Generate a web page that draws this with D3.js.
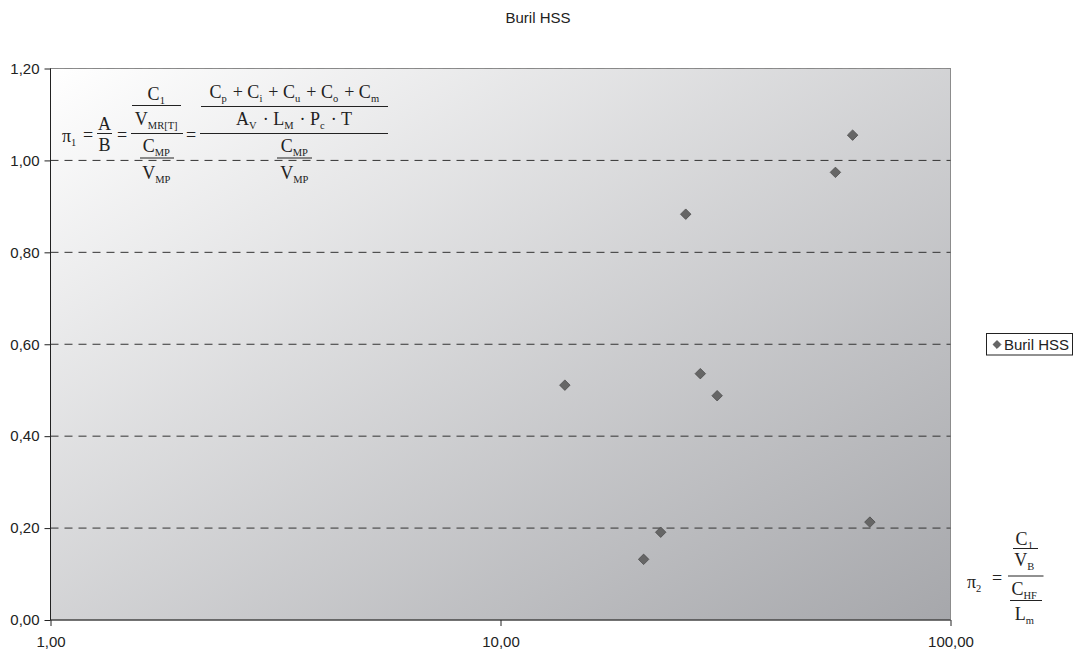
<!DOCTYPE html>
<html>
<head>
<meta charset="utf-8">
<script src="https://cdn.jsdelivr.net/npm/d3@7"></script>
<style>
  body { margin: 0; background: #fff; }
  svg { display: block; }
</style>
</head>
<body>
<div id="chart"></div>
<script>
// data
const seriesName = "Buril HSS";
const xValues = [60.6, 55.5, 25.8, 13.9, 27.8, 30.3, 22.7, 20.8, 66.2];
const yValues = [1.055, 0.974, 0.883, 0.511, 0.536, 0.488, 0.191, 0.132, 0.213];
const xTicks = [1, 10, 100];
const yTicks = [0, 0.2, 0.4, 0.6, 0.8, 1.0, 1.2];

const width = 1074, height = 649;
const margin = {top: 68.5, right: 123.5, bottom: 29, left: 50.5};
const plotW = width - margin.left - margin.right,
      plotH = height - margin.top - margin.bottom;

const fmt = d3.formatLocale({decimal: ",", thousands: ".", grouping: [3], currency: ["", ""]}).format(".2f");

const svg = d3.select("#chart").append("svg")
  .attr("width", width)
  .attr("height", height)
  .style("font-family", "'Liberation Sans', Arial, sans-serif");

// background gradient of the plot area
const grad = svg.append("defs").append("linearGradient")
  .attr("id", "bg").attr("x1", 0).attr("y1", 0).attr("x2", 1).attr("y2", 1);
grad.append("stop").attr("offset", "0%").attr("stop-color", "#ffffff");
grad.append("stop").attr("offset", "100%").attr("stop-color", "#a6a7ab");

// title
svg.append("text")
  .attr("x", 538).attr("y", 23)
  .attr("text-anchor", "middle")
  .attr("font-size", "15px").attr("fill", "#222")
  .text(seriesName);

const g = svg.append("g")
  .attr("transform", "translate(" + margin.left + "," + margin.top + ")");

const x = d3.scaleLog().domain([1, 100]).range([0, plotW]);
const y = d3.scaleLinear().domain([0, 1.2]).range([plotH, 0]);

g.append("rect")
  .attr("width", plotW).attr("height", plotH)
  .attr("fill", "url(#bg)")
  .attr("stroke", "#8c8c8c").attr("stroke-width", 1);

// dashed gridlines
g.append("g").selectAll("line")
  .data(yTicks.filter(d => d > 0))
  .enter().append("line")
    .attr("x1", 0).attr("x2", plotW)
    .attr("y1", d => y(d)).attr("y2", d => y(d))
    .attr("stroke", d => d >= 1.2 ? "#888" : "#333")
    .attr("stroke-width", 1)
    .attr("stroke-dasharray", "8,6");

// axes
const yAxis = g.append("g")
  .call(d3.axisLeft(y).tickValues(yTicks).tickFormat(fmt).tickSize(6).tickPadding(5));
const xAxis = g.append("g")
  .attr("transform", "translate(0," + plotH + ")")
  .call(d3.axisBottom(x).tickValues(xTicks).tickFormat(fmt).tickSize(6).tickPadding(10));

[xAxis, yAxis].forEach(a => {
  a.select(".domain").attr("stroke", "#222");
  a.selectAll(".tick line").attr("stroke", "#222");
  a.selectAll("text")
    .attr("font-family", "'Liberation Sans', Arial, sans-serif")
    .attr("font-size", "15px").attr("fill", "#222");
});
xAxis.select(".domain").attr("d", "M0,0H" + plotW);
yAxis.select(".domain").attr("d", "M0," + plotH + "V0");

// points
const pts = xValues.map((v, i) => ({x: v, y: yValues[i]}));
const diamond = d3.symbol().type(d3.symbolDiamond2).size(70);
g.append("g").selectAll("path")
  .data(pts)
  .enter().append("path")
    .attr("d", diamond)
    .attr("transform", d => "translate(" + x(d.x) + "," + y(d.y) + ")")
    .attr("fill", "#666")
    .attr("stroke", "#4d4d4d")
    .attr("stroke-width", 0.8);

// legend
const leg = svg.append("g");
leg.append("rect")
  .attr("x", 986.5).attr("y", 333.5).attr("width", 86).attr("height", 21.5)
  .attr("fill", "#fff").attr("stroke", "#222");
leg.append("path")
  .attr("d", d3.symbol().type(d3.symbolDiamond2).size(40))
  .attr("transform", "translate(997,344.5)")
  .attr("fill", "#666").attr("stroke", "#4d4d4d").attr("stroke-width", 0.8);
leg.append("text")
  .attr("x", 1004).attr("y", 349.5)
  .attr("font-size", "15px").attr("fill", "#222")
  .text(seriesName);

// formulas (Times style)
const fx = svg.append("g")
  .attr("font-family", "'Liberation Serif', 'Times New Roman', serif")
  .attr("fill", "#222");
const FS = 18;

// parts: array of [text, sub]
function term(px, py, parts, anchor) {
  const t = fx.append("text")
    .attr("x", px).attr("y", py)
    .attr("text-anchor", anchor || "middle")
    .attr("font-size", FS + "px");
  parts.forEach(p => {
    t.append("tspan").text(p[0]);
    if (p[1]) {
      t.append("tspan").attr("dy", 4).attr("font-size", "10.5px").text(p[1]);
      t.append("tspan").attr("dy", -4).text("\u200a");
    }
  });
  return t;
}
function bar(x1, x2, yy) {
  fx.append("line")
    .attr("x1", x1).attr("x2", x2).attr("y1", yy).attr("y2", yy)
    .attr("stroke", "#222").attr("stroke-width", 1);
}

// pi1
term(62, 142, [["\u03c0", "1"]], "start");
term(88, 141, [["="]]);
term(104.5, 130, [["A"]]);
bar(97, 112, 133.5);
term(104.5, 151, [["B"]]);
term(122, 141, [["="]]);
term(157, 100, [["C", "1"]]);
bar(132, 181, 105.5);
term(157, 124.5, [["V", "MR[T]"]]);
bar(131, 183, 133.5);
term(157, 151.5, [["C", "MP"]]);
bar(140, 174, 158);
term(157, 178.5, [["V", "MP"]]);
term(191, 141, [["="]]);
term(295, 98, [["C", "p"], [" + C", "i"], [" + C", "u"], [" + C", "o"], [" + C", "m"]]);
bar(201, 388, 106.5);
term(294, 125, [["A", "V"], [" \u00b7 L", "M"], [" \u00b7 P", "c"], [" \u00b7 T"]]);
bar(200, 388, 133.5);
term(295, 151.5, [["C", "MP"]]);
bar(277, 312, 158);
term(295, 178.5, [["V", "MP"]]);

// pi2
term(967, 588, [["\u03c0", "2"]], "start");
term(997, 583.5, [["="]]);
term(1025, 544.5, [["C", "1"]]);
bar(1013, 1038, 548.5);
term(1025, 566, [["V", "B"]]);
bar(1008, 1043.5, 576);
term(1025, 594.5, [["C", "HF"]]);
bar(1010, 1042, 600.5);
term(1025, 620, [["L", "m"]]);
</script>
</body>
</html>
